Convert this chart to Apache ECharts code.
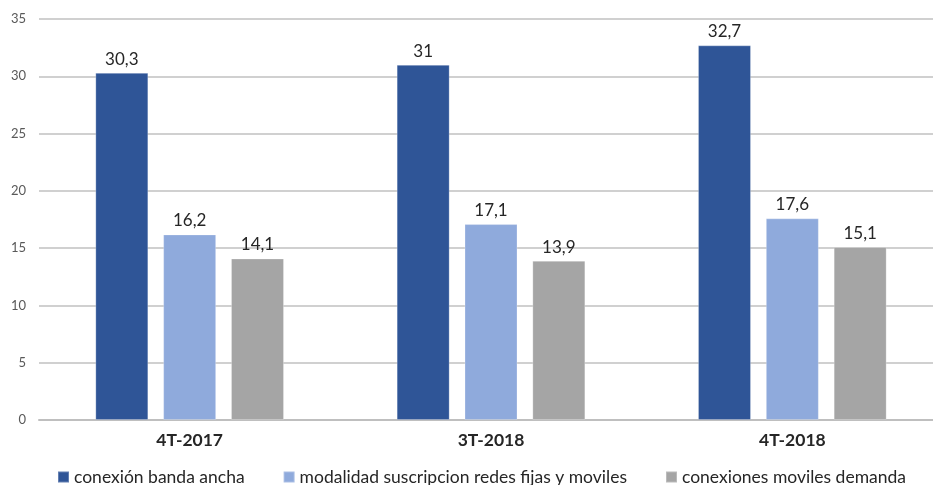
<!DOCTYPE html>
<html lang="es">
<head>
    <meta charset="UTF-8">
    <title>Conexiones</title>
    <script src="https://cdn.jsdelivr.net/npm/echarts@6/dist/echarts.min.js"></script>
    <style>
        html, body { margin: 0; padding: 0; background: #fff; overflow: hidden; }
        #main { width: 943px; height: 485px; }
    </style>
</head>
<body>
<div id="main"></div>
<script>
    var categories = ['4T-2017', '3T-2018', '4T-2018'];
    var seriesNames = ['conexión banda ancha', 'modalidad suscripcion redes fijas y moviles', 'conexiones moviles demanda'];
    var bandaAncha = [30.3, 31, 32.7];
    var suscripcion = [16.2, 17.1, 17.6];
    var movilesDemanda = [14.1, 13.9, 15.1];
    var colors = ['#2f5597', '#8faadc', '#a5a5a5'];

    var myChart = echarts.init(document.getElementById('main'));

    // 30.3 -> "30,3"
    function fmt(p) {
        return String(p.value).replace('.', ',');
    }

    function makeSeries(name, data, color) {
        return {
            name: name,
            type: 'bar',
            data: data,
            barWidth: 53,
            barGap: '28%',
            itemStyle: { color: color, borderColor: 'rgba(255,255,255,0.25)', borderWidth: 1 },
            label: {
                show: true,
                position: 'top',
                distance: 5,
                formatter: fmt,
                fontFamily: 'Lato',
                fontSize: 17,
                color: '#262626'
            }
        };
    }

    // the plot runs past the right edge of the window, as in the original
    var option = {
        animation: false,
        textStyle: { fontFamily: 'Lato' },
        grid: { left: 39, right: 0, top: 19, bottom: 65 },
        legend: {
            top: 463,
            left: 52,
            itemWidth: 11,
            itemHeight: 11,
            itemGap: 38,
            icon: 'rect',
            textStyle: { fontFamily: 'Lato', fontSize: 17.5, color: '#262626' },
            data: seriesNames
        },
        xAxis: {
            type: 'category',
            data: categories,
            axisTick: { show: false },
            axisLine: { lineStyle: { color: '#bfbfbf', width: 2 } },
            axisLabel: { fontFamily: 'Lato', fontSize: 17.5, fontWeight: 'bold', color: '#262626', margin: 11 }
        },
        yAxis: {
            type: 'value',
            min: 0,
            max: 35,
            interval: 5,
            axisLine: { show: false },
            axisTick: { show: false },
            splitLine: { lineStyle: { color: '#d0d0d0', width: 2 } },
            axisLabel: { fontFamily: 'Lato', fontSize: 13, color: '#595959', margin: 13 }
        },
        series: [
            makeSeries(seriesNames[0], bandaAncha, colors[0]),
            makeSeries(seriesNames[1], suscripcion, colors[1]),
            makeSeries(seriesNames[2], movilesDemanda, colors[2])
        ]
    };
    myChart.setOption(option);
</script>
</body>
</html>
